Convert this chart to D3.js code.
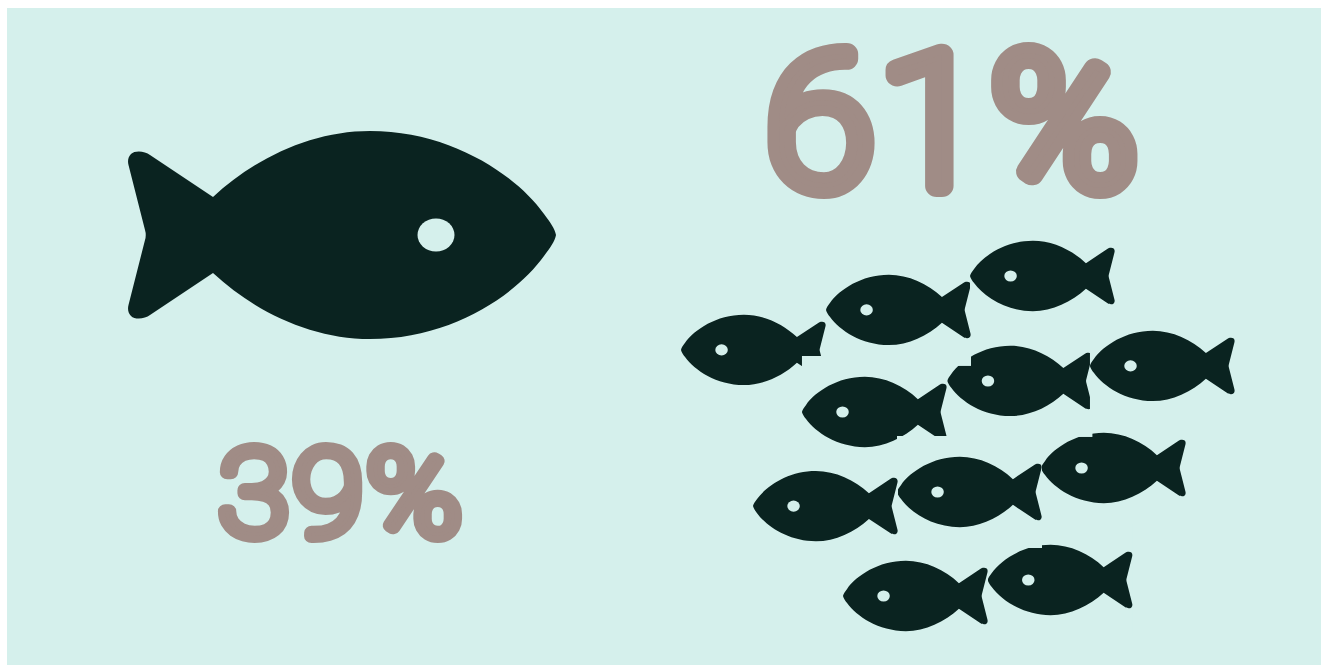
<!DOCTYPE html>
<html>
<head>
<meta charset="utf-8">
<script src="https://cdn.jsdelivr.net/npm/d3@7/dist/d3.min.js"></script>
<style>
  html, body { margin: 0; padding: 0; background: #fff; }
  svg { display: block; }
  text { font-family: Roboto, sans-serif; font-weight: 100; paint-order: stroke; stroke-linejoin: round; stroke-linecap: round; }
</style>
</head>
<body>
<svg id="chart" width="1324" height="666"></svg>
<script>
// Shares shown on the two sides of the graphic
const shareLabels = ["39%", "61%"];
const shareValues = [39, 61];

// The school of fish: lane across, depth down, in back-to-front drawing order
const schoolLanes = [0, 0.84, 2.5, 1.85, 1.007, 2.13, 1.5, 2.007, 2.84, 0.5, 1.125];
const schoolDepths = [2.31, 4.25, 6, 3.28, 1.06, 9.5, 6.75, 0, 2.81, 7.19, 10];

const colors = { panel: "#d5f0ec", fish: "#0a2320", label: "#a08c86" };

const svg = d3.select("#chart");
const laneX = d3.scaleLinear().domain([0, 3]).range([681, 1113]);
const depthY = d3.scaleLinear().domain([0, 10]).range([276, 596]);

// Fish icon facing right, nose at the origin, 429 units long
function fishPath() {
  const p = d3.path();
  p.moveTo(0, 0);
  // upper half, nose to tail notch
  p.bezierCurveTo(-1, -6, -6, -13, -12, -21);
  p.bezierCurveTo(-40, -60, -105, -104, -186, -104);
  p.bezierCurveTo(-244, -104, -301, -77, -343, -38);
  p.lineTo(-406, -80);
  p.bezierCurveTo(-411, -84, -421, -85, -425, -81);
  p.bezierCurveTo(-428, -78, -428.5, -74, -427.5, -70);
  p.lineTo(-411, -5);
  p.quadraticCurveTo(-409.5, 0, -411, 5);
  // lower half, tail notch back to nose
  p.lineTo(-427.5, 70);
  p.bezierCurveTo(-428.5, 74, -428, 78, -425, 81);
  p.bezierCurveTo(-421, 85, -411, 84, -406, 80);
  p.lineTo(-343, 38);
  p.bezierCurveTo(-301, 77, -244, 104, -186, 104);
  p.bezierCurveTo(-105, 104, -40, 60, -12, 21);
  p.bezierCurveTo(-6, 13, -1, 6, 0, 0);
  p.closePath();
  return p.toString();
}
const fishD = fishPath();

function drawFish(g) {
  g.append("path").attr("d", fishD).attr("fill", colors.fish);
  g.append("ellipse")
    .attr("cx", -120).attr("cy", 0)
    .attr("rx", 18.5).attr("ry", 16.5)
    .attr("fill", colors.panel);
}

// Panel
svg.append("rect")
  .attr("x", 7).attr("y", 8)
  .attr("width", 1314).attr("height", 657)
  .attr("fill", colors.panel);

// Single large fish
svg.append("g")
  .attr("transform", "translate(556,235)")
  .call(drawFish);

// School of small fish, each on a plate in the panel colour
const plateW = 145, plateH = 112;
const school = svg.selectAll("g.school")
  .data(d3.zip(schoolLanes, schoolDepths))
  .join("g")
  .attr("class", "school")
  .attr("transform", d => `translate(${laneX(d[0])},${depthY(d[1])})`);

school.append("rect")
  .attr("x", 0).attr("y", -plateH / 2)
  .attr("width", plateW).attr("height", plateH)
  .attr("fill", colors.panel);

school.append("g")
  .attr("transform", "scale(-0.338,0.338)")
  .call(drawFish);

// Share labels: the stroke rounds off the letter ends
const labelSpec = [
  { size: 119, x: 342.5, y: 535, stroke: 14, spacing: 4, widen: 1.07 },
  { size: 183, x: 955, y: 186, stroke: 22, spacing: 6, widen: 1.06 }
];
svg.selectAll("text.share")
  .data(shareLabels)
  .join("text")
  .attr("class", "share")
  .attr("text-anchor", "middle")
  .attr("transform", (d, i) => `translate(${labelSpec[i].x},${labelSpec[i].y}) scale(${labelSpec[i].widen},1)`)
  .attr("font-size", (d, i) => labelSpec[i].size)
  .attr("letter-spacing", (d, i) => labelSpec[i].spacing)
  .attr("stroke-width", (d, i) => labelSpec[i].stroke)
  .attr("stroke", colors.label)
  .attr("fill", colors.label)
  .text(d => d);
</script>
</body>
</html>
